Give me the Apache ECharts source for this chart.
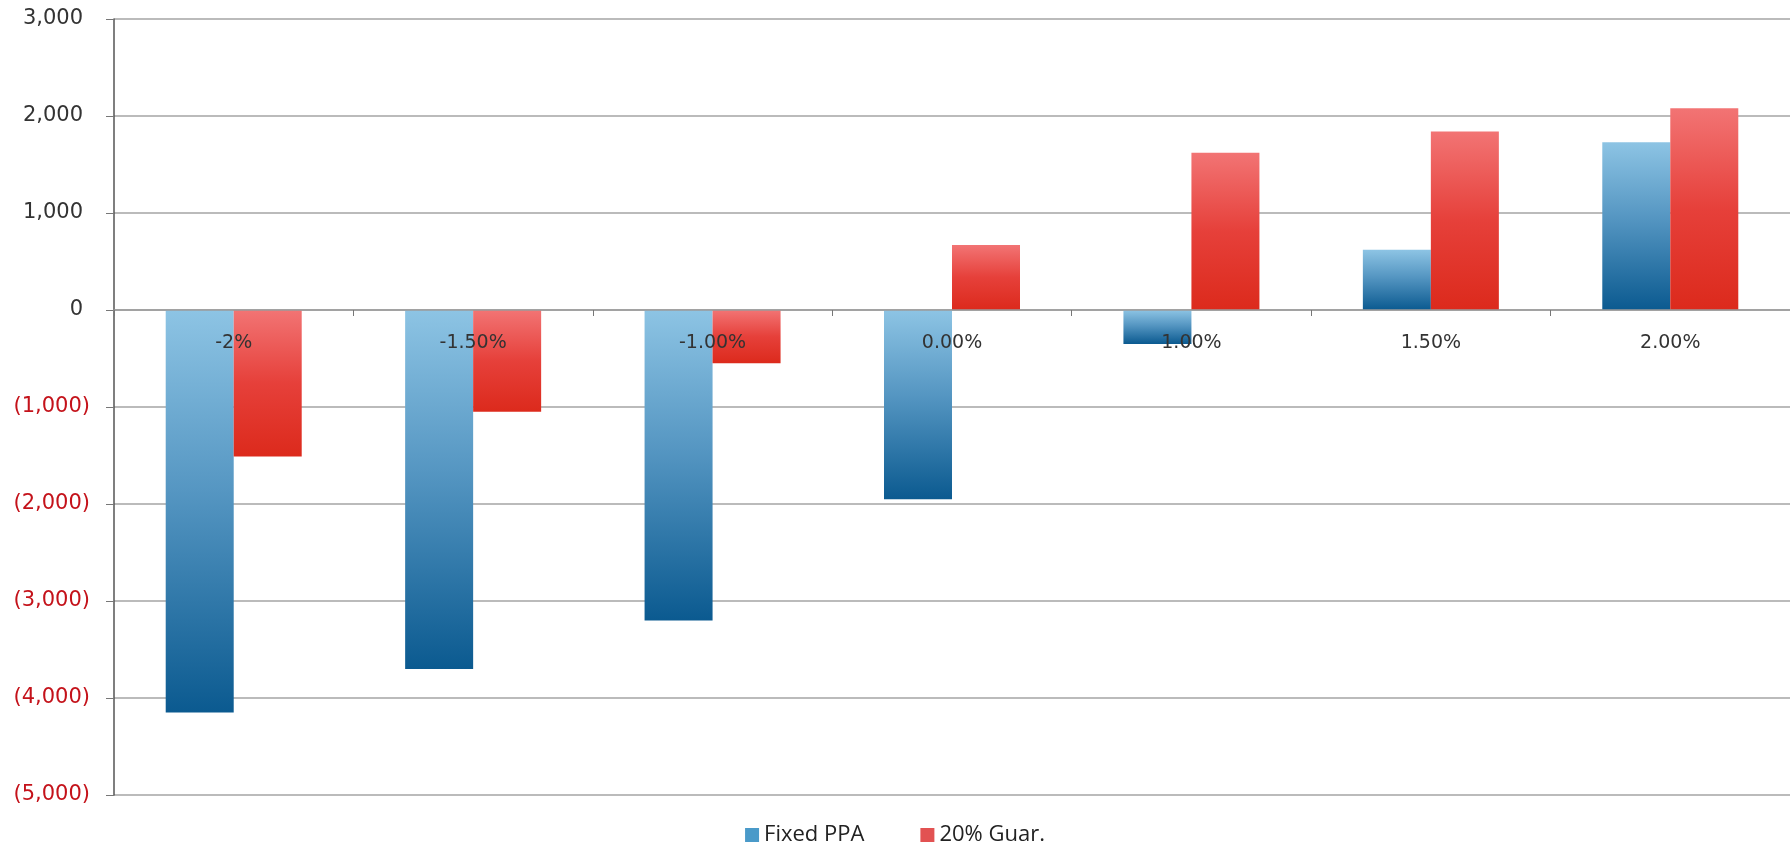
<!DOCTYPE html>
<html>
<head>
<meta charset="utf-8">
<script src="https://cdn.jsdelivr.net/npm/echarts@6/dist/echarts.min.js"></script>
<style>
html,body{margin:0;padding:0;background:#fff;}
#chart{width:1790px;height:844px;}
</style>
</head>
<body>
<div id="chart"></div>
<script>
const categories = ['-2%', '-1.50%', '-1.00%', '0.00%', '1.00%', '1.50%', '2.00%'];
const fixedPPA = [-4150, -3700, -3200, -1950, -350, 620, 1730];
const guar20 = [-1510, -1050, -550, 670, 1620, 1840, 2080];
const seriesNames = ['Fixed PPA', '20% Guar.'];
const yMin = -5000, yMax = 3000, yStep = 1000;

function fmt(v) {
  const s = Math.abs(v).toLocaleString('en-US');
  return v < 0 ? '(' + s + ')' : s;
}

const gridTop = 19, gridBottom = 49, H = 844;
const plotH = H - gridTop - gridBottom;
// distance from bottom of plot to the zero line, so category labels sit under zero
const zeroOffset = -plotH * (0 - yMin) / (yMax - yMin);

const chart = echarts.init(document.getElementById('chart'));
const blueGrad = new echarts.graphic.LinearGradient(0, 0, 0, 1, [
  {offset: 0, color: '#8dc4e4'},
  {offset: 0.45, color: '#5596c2'},
  {offset: 1, color: '#0b5a90'}
]);
const redGrad = new echarts.graphic.LinearGradient(0, 0, 0, 1, [
  {offset: 0, color: '#f27474'},
  {offset: 0.5, color: '#e6403a'},
  {offset: 1, color: '#dc2a1c'}
]);

chart.setOption({
  animation: false,
  backgroundColor: '#fff',
  grid: {left: 114, right: -3, top: gridTop, bottom: gridBottom, containLabel: false},
  legend: {
    data: [
      {name: seriesNames[0], itemStyle: {color: '#4a9ac9'}},
      {name: seriesNames[1], itemStyle: {color: '#e25252'}}
    ],
    left: 'center',
    top: 819,
    icon: 'rect',
    itemWidth: 14,
    itemHeight: 14,
    itemGap: 56,
    textStyle: {fontFamily: 'Open Sans', fontSize: 22, color: '#222'}
  },
  xAxis: [{
    type: 'category',
    data: categories,
    z: 10,
    position: 'bottom',
    offset: zeroOffset,
    axisLine: {onZero: false, lineStyle: {color: '#9a9a9a', width: 1.5}},
    axisTick: {show: true, inside: false, length: 6, lineStyle: {color: '#777'}},
    axisLabel: {fontFamily: 'DejaVu Sans', fontSize: 19, color: '#333', margin: 24}
  }],
  yAxis: {
    type: 'value',
    min: yMin,
    max: yMax,
    interval: yStep,
    axisLine: {show: true, lineStyle: {color: '#555', width: 1.5}},
    axisTick: {show: true, length: 8, lineStyle: {color: '#777'}},
    splitLine: {show: true, lineStyle: {color: '#a5a5a5', width: 1.5}},
    axisLabel: {
      fontFamily: 'DejaVu Sans',
      fontSize: 21,
      margin: 24,
      formatter: function (v) { return v < 0 ? '{neg|' + fmt(v) + '}' : '{pos|' + fmt(v) + '}'; },
      rich: {
        neg: {color: '#c4121a', fontFamily: 'DejaVu Sans', fontSize: 21},
        pos: {color: '#333', fontFamily: 'DejaVu Sans', fontSize: 21, padding: [0, 7, 0, 0]}
      }
    }
  },
  series: [
    {
      name: seriesNames[0],
      type: 'bar',
      data: fixedPPA,
      barWidth: 68,
      barGap: '0%',
      itemStyle: {color: blueGrad}
    },
    {
      name: seriesNames[1],
      type: 'bar',
      data: guar20,
      barWidth: 68,
      barGap: '0%',
      itemStyle: {color: redGrad}
    }
  ]
});
</script>
</body>
</html>
